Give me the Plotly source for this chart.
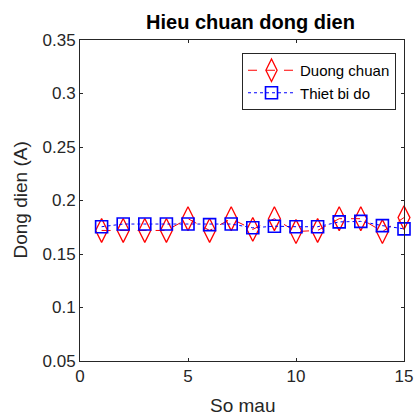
import plotly.graph_objects as go

so_mau = list(range(1, 16))
duong_chuan = [0.172, 0.172, 0.172, 0.172, 0.183, 0.172, 0.183, 0.173, 0.183, 0.171,
               0.172, 0.183, 0.183, 0.171, 0.184]
thiet_bi_do = [0.1755, 0.178, 0.178, 0.178, 0.178, 0.1775, 0.178, 0.1745, 0.176, 0.1755,
               0.1755, 0.180, 0.1805, 0.1765, 0.1735]
x_ticks = [0, 5, 10, 15]
y_ticks = [0.05, 0.1, 0.15, 0.2, 0.25, 0.3, 0.35]
y_tick_labels = ["0.05", "0.1", "0.15", "0.2", "0.25", "0.3", "0.35"]

FONT = "Liberation Sans, Arial, sans-serif"
AX = "#262626"

fig = go.Figure()
fig.add_trace(go.Scatter(
    x=so_mau, y=duong_chuan, name="Duong chuan", mode="lines+markers", cliponaxis=False,
    line=dict(color="#ff0000", width=1, dash="dash"),
    marker=dict(symbol="diamond-tall-open", size=17, color="#ff0000", line=dict(width=1.3, color="#ff0000")),
))
fig.add_trace(go.Scatter(
    x=so_mau, y=thiet_bi_do, name="Thiet bi do", mode="lines+markers", cliponaxis=False,
    line=dict(color="#0000ff", width=1, dash="dot"),
    marker=dict(symbol="square-open", size=12, color="#0000ff", line=dict(width=1.6, color="#0000ff")),
))

axis_common = dict(
    showline=True, linecolor=AX, linewidth=1, mirror="ticks", automargin=False,
    ticks="inside", ticklen=3, tickcolor=AX, showgrid=False, zeroline=False,
    tickfont=dict(family=FONT, size=17, color="#262626"),
)
fig.update_layout(
    width=414, height=416,
    margin=dict(l=80, r=10, t=40, b=55, autoexpand=False),
    paper_bgcolor="white", plot_bgcolor="white",
    title=dict(text="<b>Hieu chuan dong dien</b>", x=0.605, xanchor="center", y=1 - 22 / 416,
               yref="container", yanchor="middle",
               font=dict(family=FONT, size=20, color="#000000")),
    xaxis=dict(range=[0, 15], tickvals=x_ticks, **axis_common),
    yaxis=dict(range=[0.05, 0.35], tickvals=y_ticks, ticktext=y_tick_labels, **axis_common),
    legend=dict(x=(242 - 80) / 324, y=(361 - 53) / 321, xanchor="left", yanchor="top",
                bordercolor=AX, borderwidth=1, itemwidth=47,
                bgcolor="white", font=dict(family=FONT, size=15, color="#000000"),
                tracegroupgap=0),
    showlegend=True,
    annotations=[
        dict(text="So mau", xref="paper", yref="paper", x=0.5, y=-44 / 321, xanchor="center",
             yanchor="middle", showarrow=False, font=dict(family=FONT, size=19, color="#262626")),
        dict(text="Dong dien (A)", xref="paper", yref="paper", x=-60 / 324, y=0.5, xanchor="center",
             yanchor="middle", textangle=-90, showarrow=False,
             font=dict(family=FONT, size=19, color="#262626")),
    ],
)
fig.write_html("out.html", post_script="document.body.style.margin='0';",
               config={"displayModeBar": False})
